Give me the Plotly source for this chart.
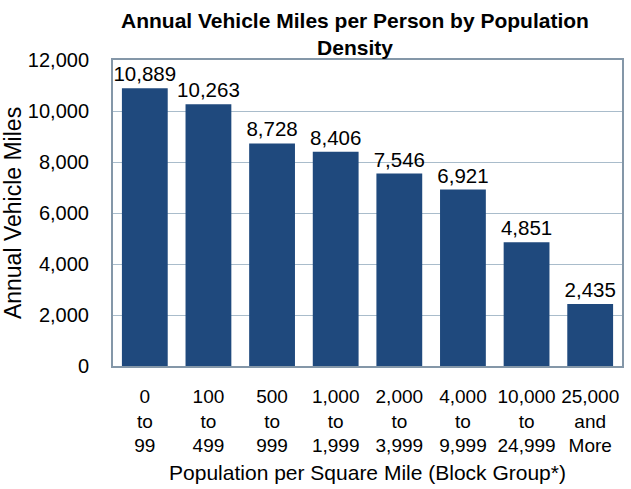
import plotly.graph_objects as go

categories = ["0<br>to<br>99", "100<br>to<br>499", "500<br>to<br>999", "1,000<br>to<br>1,999",
              "2,000<br>to<br>3,999", "4,000<br>to<br>9,999", "10,000<br>to<br>24,999", "25,000<br>and<br>More"]
values = [10889, 10263, 8728, 8406, 7546, 6921, 4851, 2435]
labels = [f"{v:,}" for v in values]
title_text = "<b>Annual Vehicle Miles per Person by Population<br>Density</b>"

FONT = "Liberation Sans, Arial, sans-serif"

fig = go.Figure(go.Bar(
    x=categories, y=values, text=labels, textposition="outside",
    marker=dict(color="#1F497D", line=dict(width=0)),
    textfont=dict(size=20.5, color="#000000", family=FONT),
    constraintext="none",
    cliponaxis=False,
))

fig.update_layout(
    width=631, height=489,
    margin=dict(l=113, r=7, t=60, b=123),
    paper_bgcolor="white", plot_bgcolor="white",
    bargap=0.28,
    showlegend=False,
    font=dict(family=FONT, size=19, color="#000000"),
    xaxis=dict(showgrid=False, showline=True, linecolor="#8497A8", linewidth=2, mirror=True,
               ticks="", tickfont=dict(size=19), ticklabelstandoff=12,
               title=dict(text="Population per Square Mile (Block Group*)", font=dict(size=21), standoff=10)),
    yaxis=dict(range=[0, 12000], dtick=2000, tickformat=",", showgrid=True, gridcolor="#A9BCCB",
               gridwidth=1, showline=True, linecolor="#8497A8", linewidth=2, mirror=True,
               ticks="", tickfont=dict(size=20), ticklabelstandoff=18, zeroline=False,
               title=dict(text="Annual Vehicle Miles", font=dict(size=23), standoff=0)),
    annotations=[dict(text=title_text, xref="paper", yref="paper", x=0.4746, y=1,
                      xanchor="center", yanchor="bottom", showarrow=False, yshift=-1,
                      font=dict(size=21, family=FONT, color="#000000"))],
)

fig.write_html("out.html")
